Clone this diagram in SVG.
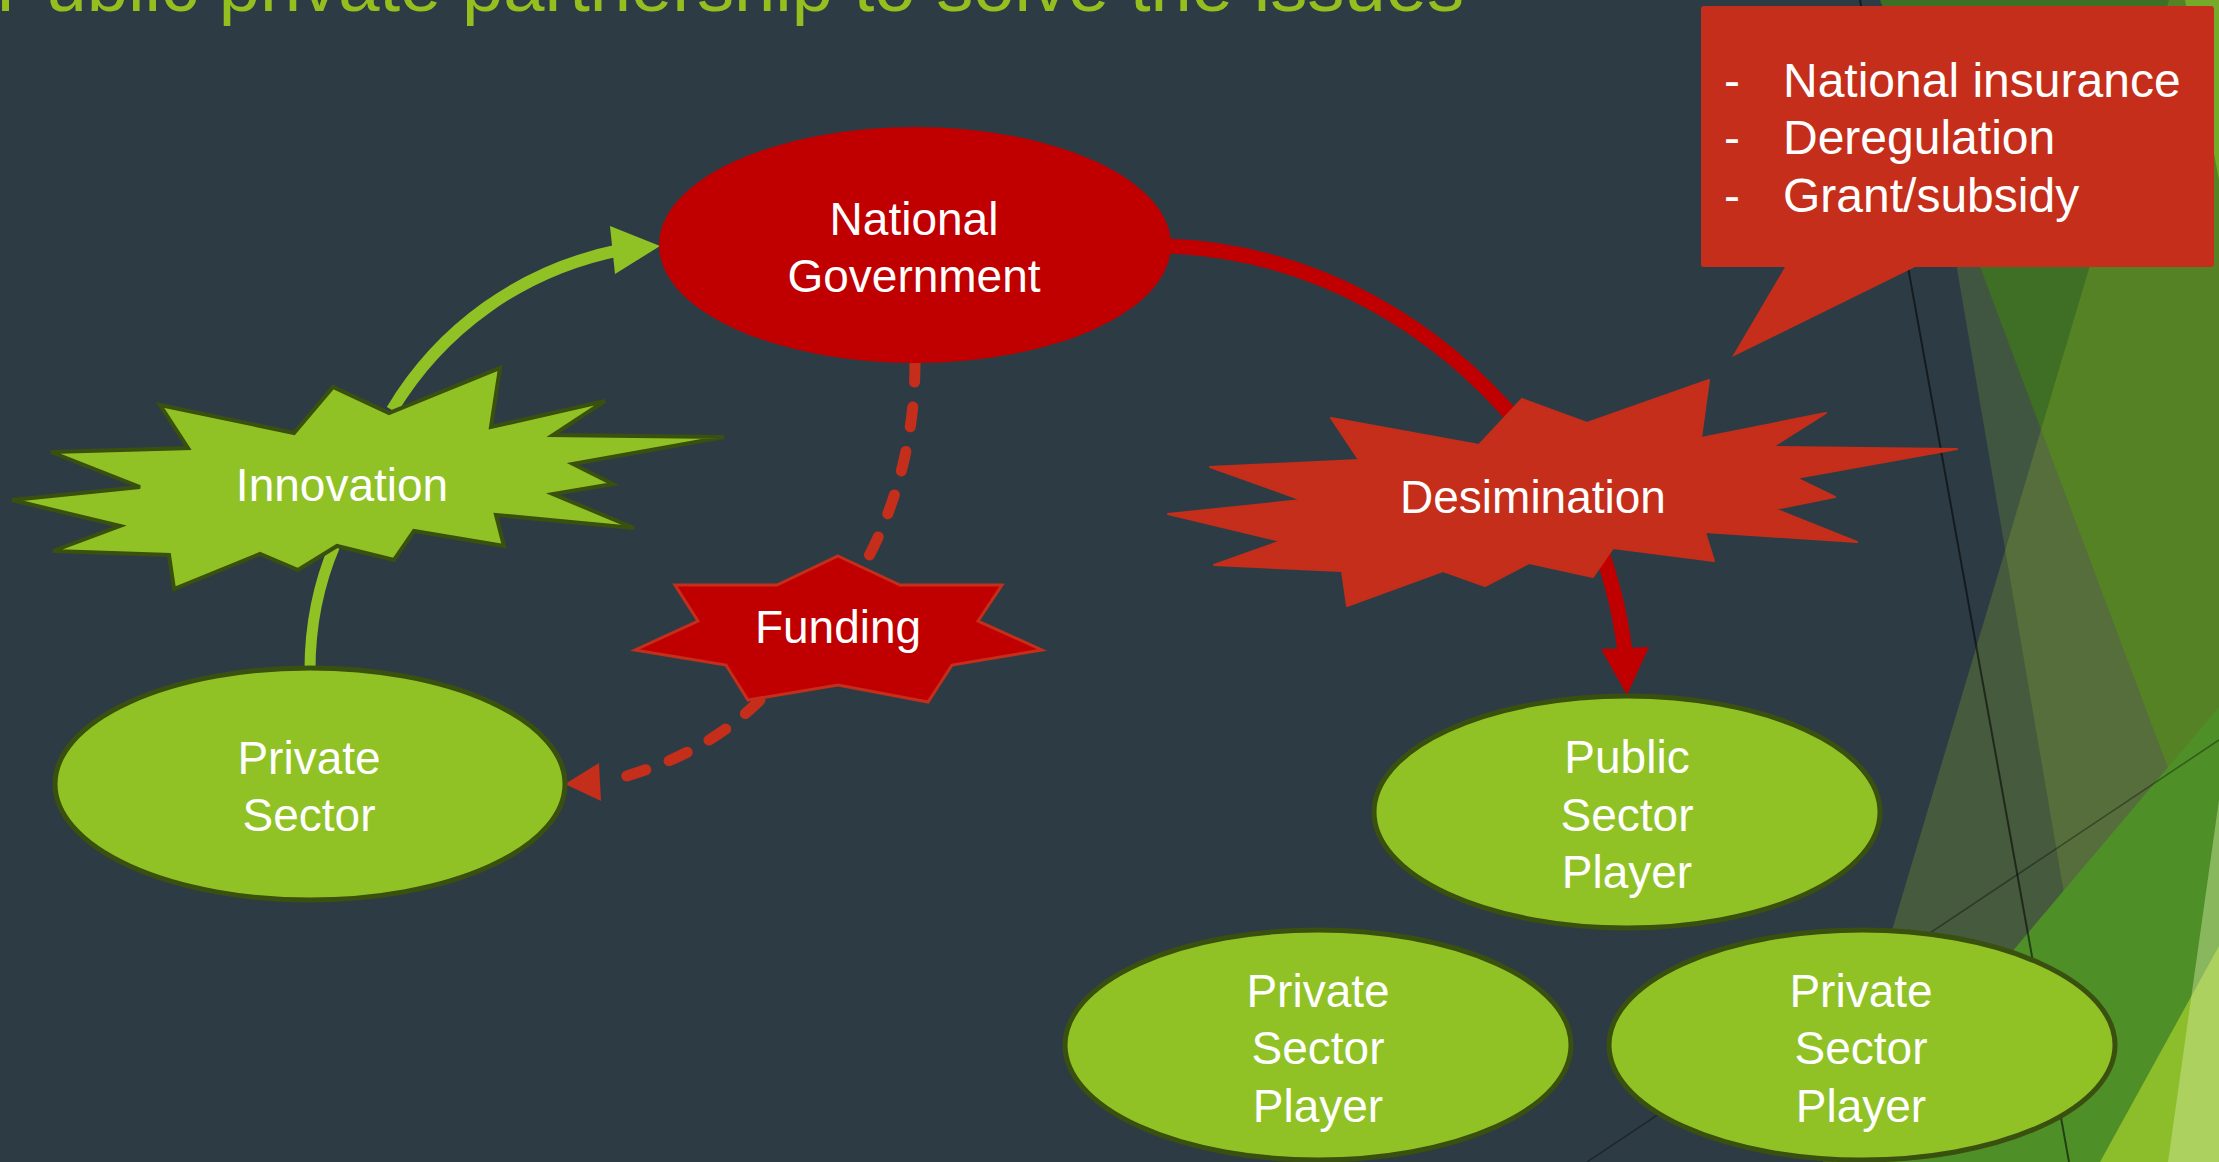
<svg xmlns="http://www.w3.org/2000/svg" width="2219" height="1162" viewBox="0 0 2219 1162">
<style>
.lbl{font-family:"Liberation Sans",Arial,sans-serif;font-size:46px;fill:#ffffff;text-anchor:middle}
.co{font-family:"Liberation Sans",Arial,sans-serif;font-size:48px;fill:#ffffff}
.title{font-family:"Liberation Sans",Arial,sans-serif;font-size:72px;fill:#93c01f}
.gEl{fill:#90c226;stroke:#3a500f;stroke-width:5}
.burstG{fill:#90c226;stroke:#3a500f;stroke-width:4;stroke-linejoin:miter}
.dash{fill:none;stroke:#c42e1a;stroke-width:11;stroke-linecap:round;stroke-dasharray:20 25}
</style>
<rect x="0" y="0" width="2219" height="1162" fill="#2d3c44"/>
<g id="background">
  <polygon points="1911,0 2219,0 2219,1162 2110,1162" fill="#8cbe32" opacity="0.2"/>
  <polygon points="1880,0 2219,0 2219,904" fill="#3f6f24"/>
  <polygon points="2169,0 2219,0 2219,1162 1823,1162" fill="#aad228" opacity="0.2"/>
  <polygon points="2185,0 2219,0 2219,180" fill="#76aa2a"/>
  <polygon points="2219,707 2219,1162 1834,1162" fill="#4e8f28"/>
  <polygon points="2219,946 2219,1162 2100,1162" fill="#8cbd2a"/>
  <polygon points="2219,800 2168,1162 2219,1162" fill="#d2e8a0" opacity="0.45"/>
  <line x1="1860" y1="0" x2="2069" y2="1162" stroke="#000" stroke-opacity="0.55" stroke-width="2"/>
  <line x1="2219" y1="740" x2="1587" y2="1162" stroke="#000" stroke-opacity="0.35" stroke-width="1.6"/>
</g>
<text class="title" x="-4" y="11" textLength="1468" lengthAdjust="spacingAndGlyphs">Public private partnership to solve the issues</text>
<g id="connectors">
  <path d="M392,410 C440,330 520,270 620,250" fill="none" stroke="#90c226" stroke-width="12"/>
  <polygon points="610,226 660,246 615,274" fill="#90c226"/>
  <path d="M310,670 C310,620 320,580 335,545" fill="none" stroke="#90c226" stroke-width="11"/>
  <path d="M915,362 C915,440 895,510 863,567" class="dash"/>
  <path d="M760,700 C720,740 670,765 612,780" class="dash"/>
  <polygon points="565,784 599,763 601,801" fill="#c42e1a"/>
  <path d="M1168,246 C1320,252 1440,330 1520,425" fill="none" stroke="#c00000" stroke-width="15"/>
  <path d="M1590,520 C1610,570 1620,610 1625,652" fill="none" stroke="#c00000" stroke-width="15"/>
  <polygon points="1601,649 1649,647 1627,695" fill="#c00000"/>
</g>
<g id="national-government">
  <ellipse cx="915" cy="245" rx="256" ry="118" fill="#c00000"/>
  <text class="lbl" x="914" y="235">National</text>
  <text class="lbl" x="914" y="292">Government</text>
</g>
<g id="innovation">
  <polygon class="burstG" points="500,368 491,427 605,401 553,435 724,437 573,464 613,484 553,494 634,528 496,515 504,546 414,531 394,560 337,546 298,570 260,554 174,589 169,555 53,551 120,526 12,500 140,487 51,452 188,448 160,405 294,433 333,387 389,413"/>
  <text class="lbl" x="342" y="501">Innovation</text>
</g>
<g id="private-sector">
  <ellipse class="gEl" cx="310" cy="784" rx="255" ry="116"/>
  <text class="lbl" x="309" y="774">Private</text>
  <text class="lbl" x="309" y="831">Sector</text>
</g>
<g id="funding">
  <polygon points="838,556 900,585 1002,585 978,621 1042,650 952,665 928,702 838,685 748,700 726,665 635,650 698,621 675,585 777,585" fill="#c00000" stroke="#c42e1a" stroke-width="3" stroke-linejoin="miter"/>
  <text class="lbl" x="838" y="643">Funding</text>
</g>
<g id="desimination">
  <polygon points="1709,380 1701,438 1826,413 1772,447 1957,449 1796,478 1835,497 1775,509 1857,542 1705,532 1714,561 1613,548 1593,577 1529,563 1485,586 1443,571 1347,606 1342,571 1214,565 1281,541 1168,514 1302,500 1210,467 1359,460 1331,418 1479,445 1522,399 1587,423" fill="#c42e1a" stroke="#c42e1a" stroke-width="2" stroke-linejoin="round"/>
  <text class="lbl" x="1533" y="513">Desimination</text>
</g>
<g id="public-sector-player">
  <ellipse class="gEl" cx="1627" cy="812" rx="253" ry="116"/>
  <text class="lbl" x="1627" y="773">Public</text>
  <text class="lbl" x="1627" y="831">Sector</text>
  <text class="lbl" x="1627" y="888">Player</text>
</g>
<g id="private-sector-player-1">
  <ellipse class="gEl" cx="1318" cy="1045" rx="253" ry="115"/>
  <text class="lbl" x="1318" y="1007">Private</text>
  <text class="lbl" x="1318" y="1064">Sector</text>
  <text class="lbl" x="1318" y="1122">Player</text>
</g>
<g id="private-sector-player-2">
  <ellipse class="gEl" cx="1862" cy="1045" rx="253" ry="115"/>
  <text class="lbl" x="1861" y="1007">Private</text>
  <text class="lbl" x="1861" y="1064">Sector</text>
  <text class="lbl" x="1861" y="1122">Player</text>
</g>
<g id="callout">
  <path d="M1704,6 H2211 Q2214,6 2214,9 V264 Q2214,267 2211,267 H1915 L1732,357 L1785,267 H1704 Q1701,267 1701,264 V9 Q1701,6 1704,6 Z" fill="#c42e1a"/>
  <text class="co" x="1724" y="97">-</text>
  <text class="co" x="1783" y="97">National insurance</text>
  <text class="co" x="1724" y="154">-</text>
  <text class="co" x="1783" y="154">Deregulation</text>
  <text class="co" x="1724" y="212">-</text>
  <text class="co" x="1783" y="212">Grant/subsidy</text>
</g>
</svg>
